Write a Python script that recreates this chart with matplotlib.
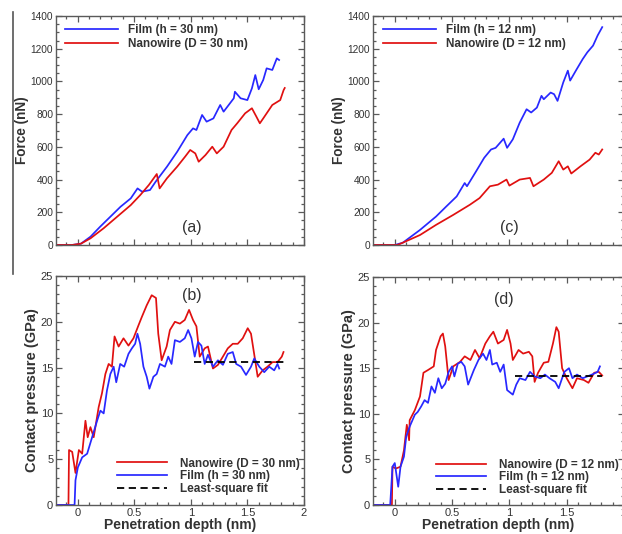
import matplotlib
matplotlib.use("Agg")
import matplotlib.pyplot as plt
from matplotlib.lines import Line2D
from matplotlib.ticker import MultipleLocator

plt.rcParams['font.family'] = ['Liberation Sans', 'DejaVu Sans']

# ---------------- data ----------------
# (a) Force vs depth, 30 nm
a_film_x = [-0.2, -0.05, 0.03, 0.115, 0.20, 0.29, 0.38, 0.47, 0.53, 0.57, 0.64, 0.69, 0.79, 0.88, 0.97,
            1.02, 1.05, 1.10, 1.14, 1.20, 1.26, 1.29, 1.38, 1.39, 1.44, 1.50, 1.54, 1.57, 1.60, 1.64,
            1.67, 1.72, 1.76, 1.78]
a_film_y = [0, 0, 8, 51, 112, 173, 234, 285, 346, 326, 336, 387, 479, 570, 672,
            713, 703, 795, 754, 774, 856, 815, 897, 937, 897, 886, 958, 1039, 952, 1009,
            1080, 1070, 1141, 1131]
a_wire_x = [-0.2, -0.05, 0.03, 0.115, 0.23, 0.35, 0.47, 0.555, 0.63, 0.70, 0.725, 0.79, 0.88, 0.95, 0.995,
            1.04, 1.07, 1.13, 1.19, 1.23, 1.29, 1.36, 1.41, 1.48, 1.54, 1.58, 1.61, 1.64, 1.72, 1.79,
            1.82, 1.83]
a_wire_y = [0, 0, 8, 41, 102, 173, 244, 306, 367, 434, 346, 408, 479, 540, 581,
            560, 509, 550, 601, 560, 601, 703, 744, 805, 836, 784, 744, 774, 856, 886,
            947, 960]

# (c) Force vs depth, 12 nm
c_film_x = [-0.2, 0.0, 0.07, 0.22, 0.36, 0.45, 0.54, 0.61, 0.63, 0.71, 0.78, 0.84, 0.88, 0.95, 0.98,
            1.03, 1.09, 1.15, 1.19, 1.24, 1.28, 1.30, 1.36, 1.39, 1.42, 1.47, 1.51, 1.53, 1.58, 1.64,
            1.68, 1.73, 1.77, 1.81]
c_film_y = [0, 0, 14, 92, 174, 236, 297, 379, 359, 451, 533, 584, 594, 650, 594,
            646, 748, 830, 810, 840, 912, 891, 932, 922, 881, 994, 1066, 1005, 1066, 1137,
            1178, 1219, 1281, 1332]
c_wire_x = [-0.2, 0.02, 0.044, 0.22, 0.36, 0.51, 0.655, 0.74, 0.83, 0.90, 0.975, 1.0, 1.09, 1.18, 1.21,
            1.30, 1.37, 1.43, 1.47, 1.51, 1.54, 1.62, 1.70, 1.75, 1.78, 1.81]
c_wire_y = [0, 0, 6, 61, 123, 184, 246, 287, 359, 369, 400, 363, 400, 410, 359,
            400, 441, 512, 461, 481, 437, 481, 522, 564, 553, 584]

# (b) Contact pressure, 30 nm
b_wire_x = [-0.2, -0.08, -0.075, -0.047, -0.018, 0.012, 0.041, 0.07, 0.09, 0.114, 0.143, 0.187, 0.216,
            0.246, 0.275, 0.304, 0.327, 0.363, 0.406, 0.45, 0.494, 0.538, 0.567, 0.611, 0.655, 0.693,
            0.713, 0.743, 0.787, 0.816, 0.86, 0.904, 0.947, 0.985, 1.02, 1.05, 1.079, 1.123, 1.152,
            1.196, 1.24, 1.284, 1.327, 1.371, 1.415, 1.459, 1.503, 1.532, 1.561, 1.591, 1.635, 1.678,
            1.722, 1.766, 1.804, 1.819]
b_wire_y = [0, 0, 6.0, 5.8, 3.5, 6.0, 5.6, 9.2, 7.4, 8.5, 7.4, 10.7, 12.2,
            14.3, 15.4, 15.1, 18.4, 17.3, 18.2, 17.4, 18.2, 19.6, 20.5, 21.8, 22.9, 22.6,
            18.7, 15.8, 17.3, 19.1, 20.0, 19.8, 20.2, 21.3, 20.2, 19.5, 16.2, 17.1, 17.3,
            14.9, 15.3, 16.2, 17.1, 17.6, 17.6, 18.2, 19.3, 18.7, 16.4, 14.0, 14.7, 15.1,
            15.6, 15.6, 16.2, 16.7]
b_film_x = [-0.2, -0.026, -0.018, 0.003, 0.041, 0.085, 0.129, 0.173, 0.202, 0.231, 0.26, 0.29, 0.319,
            0.342, 0.377, 0.412, 0.45, 0.48, 0.509, 0.529, 0.553, 0.582, 0.611, 0.635, 0.67, 0.699,
            0.728, 0.772, 0.801, 0.83, 0.86, 0.904, 0.947, 0.977, 1.006, 1.035, 1.064, 1.094, 1.123,
            1.152, 1.196, 1.24, 1.284, 1.327, 1.371, 1.401, 1.444, 1.488, 1.532, 1.561, 1.605, 1.649,
            1.693, 1.737, 1.766, 1.781]
b_film_y = [0, 0, 2.7, 4.1, 5.2, 5.6, 7.4, 9.2, 10.3, 10.0, 12.5, 14.3, 15.1,
            13.4, 15.4, 15.1, 16.5, 17.1, 17.6, 18.7, 17.6, 15.1, 14.0, 12.7, 14.0, 14.3,
            15.4, 15.1, 16.2, 15.4, 18.0, 17.8, 18.2, 19.1, 18.2, 16.2, 17.8, 17.4, 15.4,
            16.4, 15.1, 15.8, 15.3, 16.5, 16.7, 15.4, 15.1, 14.2, 15.1, 16.0, 15.1, 14.5,
            15.1, 14.7, 15.4, 14.9]
b_fit_x = [1.025, 1.82]
b_fit_y = [15.6, 15.6]

# (d) Contact pressure, 12 nm
d_wire_x = [-0.2, -0.025, -0.02, 0.01, 0.05, 0.08, 0.105, 0.125, 0.13, 0.175, 0.22, 0.25, 0.29, 0.34,
            0.36, 0.40, 0.42, 0.44, 0.47, 0.51, 0.57, 0.61, 0.66, 0.70, 0.74, 0.79, 0.83, 0.86,
            0.90, 0.95, 0.98, 1.01, 1.03, 1.08, 1.12, 1.17, 1.20, 1.22, 1.25, 1.30, 1.34, 1.38,
            1.41, 1.43, 1.46, 1.50, 1.55, 1.59, 1.65, 1.69, 1.74, 1.78, 1.81]
d_wire_y = [0, 0, 4.2, 4.0, 4.2, 6.0, 8.8, 7.1, 9.3, 10.4, 11.9, 14.5, 14.8, 15.2,
            17.0, 18.5, 18.8, 17.4, 13.7, 15.2, 15.7, 16.3, 15.9, 17.0, 16.1, 17.7, 18.5, 19.0,
            17.7, 18.1, 19.2, 17.7, 15.9, 17.0, 16.6, 16.8, 16.3, 13.5, 14.5, 15.6, 15.7, 17.7,
            19.5, 19.0, 15.0, 13.9, 12.8, 13.9, 13.7, 13.4, 14.5, 14.6, 14.2]
d_film_x = [-0.2, -0.04, -0.02, 0.0, 0.03, 0.05, 0.08, 0.10, 0.13, 0.175, 0.20, 0.23, 0.26, 0.29, 0.32,
            0.35, 0.38, 0.41, 0.44, 0.47, 0.50, 0.52, 0.55, 0.58, 0.61, 0.64, 0.69, 0.73, 0.77,
            0.80, 0.83, 0.85, 0.89, 0.92, 0.95, 0.98, 1.01, 1.03, 1.06, 1.09, 1.14, 1.18, 1.22,
            1.27, 1.31, 1.35, 1.40, 1.43, 1.46, 1.48, 1.52, 1.55, 1.59, 1.64, 1.68, 1.72, 1.77, 1.79]
d_film_y = [0, 0, 4.2, 4.6, 2.0, 4.2, 5.3, 7.5, 8.6, 9.9, 10.2, 10.8, 11.5, 11.2, 13.0,
            12.3, 13.9, 12.8, 13.3, 14.6, 15.2, 14.1, 15.5, 15.7, 15.2, 13.2, 14.8, 15.9, 16.6,
            15.9, 17.0, 15.4, 15.6, 14.6, 15.4, 12.6, 12.3, 12.1, 13.2, 13.9, 13.7, 14.6, 14.1,
            13.9, 14.3, 13.9, 13.5, 12.8, 13.9, 14.6, 15.0, 13.9, 14.3, 13.9, 14.1, 14.3, 14.6, 15.2]
d_fit_x = [1.05, 1.81]
d_fit_y = [14.1, 14.1]

# ---------------- style ----------------
BLUE = '#2828ff'
RED = '#e01010'
FRAME = '#5a5a5a'
TXT = '#333333'
W, H = 622, 534

fig = plt.figure(figsize=(W / 100, H / 100), dpi=100)


def add_ax(l, t, r, b):
    return fig.add_axes([l / W, 1 - b / H, (r - l) / W, (b - t) / H])


def style(ax, ymax, ymaj, ymin, tfs, xlabels):
    ax.set_xlim(-0.19, 2.0)
    ax.set_ylim(0, ymax)
    ax.xaxis.set_major_locator(MultipleLocator(0.5))
    ax.xaxis.set_minor_locator(MultipleLocator(0.1))
    ax.yaxis.set_major_locator(MultipleLocator(ymaj))
    ax.yaxis.set_minor_locator(MultipleLocator(ymin))
    ax.tick_params(which='both', direction='in', top=True, right=True, colors=FRAME,
                   labelcolor=TXT, labelsize=tfs, width=0.9)
    ax.tick_params(which='major', length=4.5, pad=2)
    ax.tick_params(which='minor', length=2.5)
    for s in ax.spines.values():
        s.set_color(FRAME)
        s.set_linewidth(1.0)
    if not xlabels:
        ax.tick_params(axis='x', labelbottom=False)
    ax.xaxis.set_major_formatter(matplotlib.ticker.FuncFormatter(
        lambda v, p: ('%g' % v)))


LW = 1.25
TOP_TFS = 7.3
BOT_TFS = 8.0

# (a)
ax_a = add_ax(56, 16, 304, 245)
ax_a.plot(a_film_x, a_film_y, color=BLUE, lw=LW, label='Film (h = 30 nm)')
ax_a.plot(a_wire_x, a_wire_y, color=RED, lw=LW, label='Nanowire (D = 30 nm)')
style(ax_a, 1400, 200, 50, TOP_TFS, False)
ax_a.set_ylabel('Force (nN)', fontsize=9.8, fontweight='bold', color=TXT, labelpad=1)
ax_a.text(1.01, 104, '(a)', fontsize=11.5, ha='center', va='center', color=TXT)
ax_a.legend(loc='upper left', bbox_to_anchor=(0.036, 0.965), frameon=False,
            prop={'weight': 'bold', 'size': 8.5}, handlelength=4.5, handletextpad=0.85,
            labelspacing=0.2, borderpad=0, borderaxespad=0, labelcolor=TXT)

# (c)
ax_c = add_ax(373, 16, 624, 245)
ax_c.plot(c_film_x, c_film_y, color=BLUE, lw=LW, label='Film (h = 12 nm)')
ax_c.plot(c_wire_x, c_wire_y, color=RED, lw=LW, label='Nanowire (D = 12 nm)')
style(ax_c, 1400, 200, 50, TOP_TFS, False)
ax_c.set_ylabel('Force (nN)', fontsize=9.8, fontweight='bold', color=TXT, labelpad=1)
ax_c.text(1.0, 104, '(c)', fontsize=11.5, ha='center', va='center', color=TXT)
ax_c.legend(loc='upper left', bbox_to_anchor=(0.04, 0.965), frameon=False,
            prop={'weight': 'bold', 'size': 8.5}, handlelength=4.5, handletextpad=0.85,
            labelspacing=0.2, borderpad=0, borderaxespad=0, labelcolor=TXT)

# (b)
ax_b = add_ax(56, 276, 304, 505)
ax_b.plot(b_wire_x, b_wire_y, color=RED, lw=LW, label='Nanowire (D = 30 nm)')
ax_b.plot(b_film_x, b_film_y, color=BLUE, lw=LW, label='Film (h = 30 nm)')
ax_b.plot(b_fit_x, b_fit_y, color='black', lw=1.3, dashes=(4, 2.5), label='Least-square fit')
style(ax_b, 25, 5, 1, BOT_TFS, True)
ax_b.set_ylabel('Contact pressure (GPa)', fontsize=10.5, fontweight='bold', color=TXT, labelpad=1)
ax_b.set_xlabel('Penetration depth (nm)', fontsize=10, fontweight='bold', color=TXT, labelpad=0)
ax_b.text(1.01, 22.9, '(b)', fontsize=11.5, ha='center', va='center', color=TXT)
ax_b.legend(loc='lower left', bbox_to_anchor=(0.246, 0.045), frameon=False,
            prop={'weight': 'bold', 'size': 8.5}, handlelength=4.2, handletextpad=1.1,
            labelspacing=0.05, borderpad=0, borderaxespad=0, labelcolor=TXT)

# (d)
ax_d = add_ax(373, 277, 624, 505)
ax_d.plot(d_wire_x, d_wire_y, color=RED, lw=LW, label='Nanowire (D = 12 nm)')
ax_d.plot(d_film_x, d_film_y, color=BLUE, lw=LW, label='Film (h = 12 nm)')
ax_d.plot(d_fit_x, d_fit_y, color='black', lw=1.3, dashes=(4, 2.5), label='Least-square fit')
style(ax_d, 25, 5, 1, BOT_TFS, True)
ax_d.set_ylabel('Contact pressure (GPa)', fontsize=10.5, fontweight='bold', color=TXT, labelpad=1)
ax_d.set_xlabel('Penetration depth (nm)', fontsize=10, fontweight='bold', color=TXT, labelpad=0)
ax_d.text(0.95, 22.5, '(d)', fontsize=11.5, ha='center', va='center', color=TXT)
ax_d.legend(loc='lower left', bbox_to_anchor=(0.251, 0.04), frameon=False,
            prop={'weight': 'bold', 'size': 8.5}, handlelength=4.2, handletextpad=1.1,
            labelspacing=0.05, borderpad=0, borderaxespad=0, labelcolor=TXT)

# crop artefact: thin vertical rule at left edge
fig.add_artist(Line2D([13 / W, 13 / W], [1 - 12 / H, 1 - 274 / H], color='#555555', lw=1.2))

fig.savefig('out.png', dpi=100)
